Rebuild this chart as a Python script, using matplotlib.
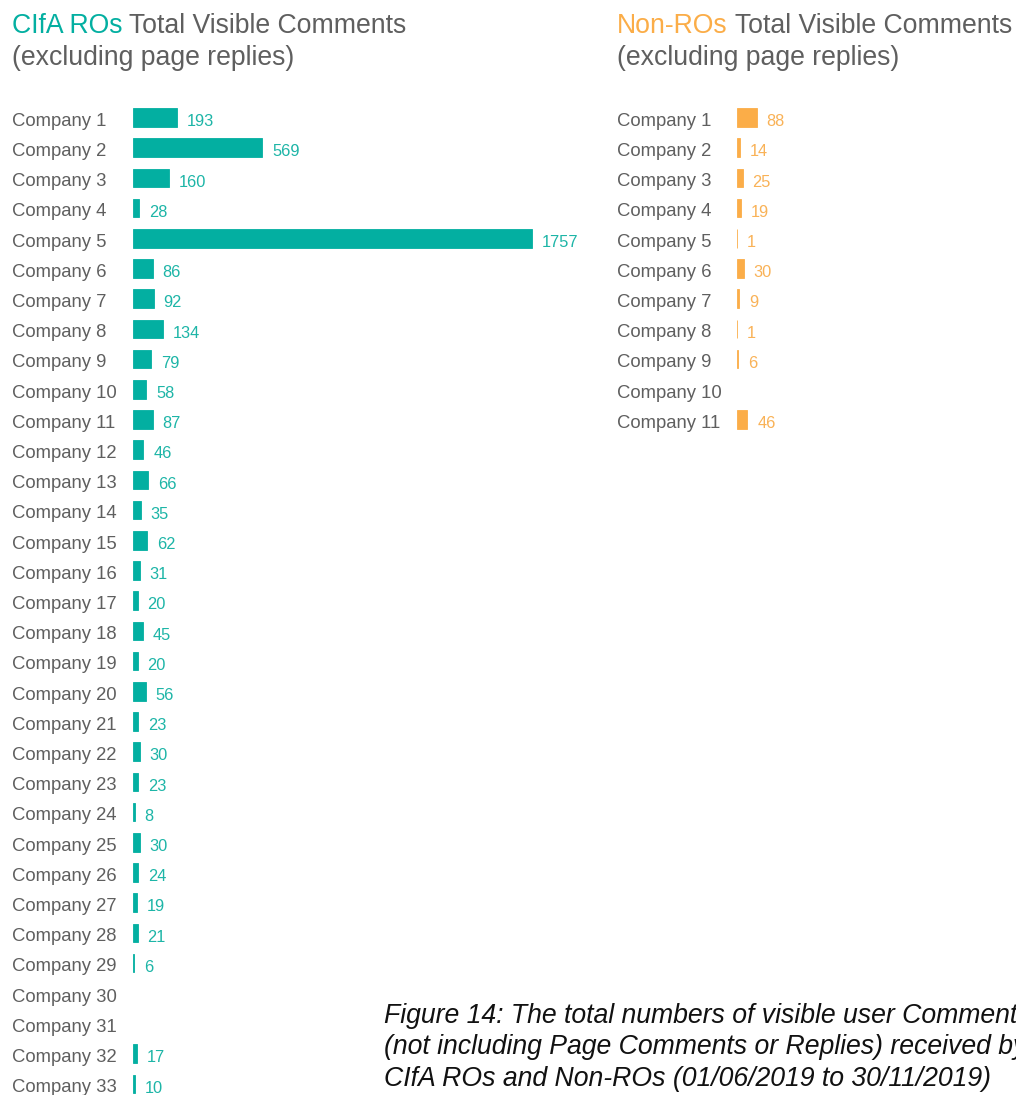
import matplotlib
matplotlib.use("Agg")
import matplotlib.pyplot as plt
import matplotlib.transforms as mtransforms

plt.rcParams["font.family"] = ["Liberation Sans", "DejaVu Sans"]

# --- data ---
ro_companies = [f"Company {i}" for i in range(1, 34)]
ro_values = [193, 569, 160, 28, 1757, 86, 92, 134, 79, 58, 87, 46, 66, 35, 62,
             31, 20, 45, 20, 56, 23, 30, 23, 8, 30, 24, 19, 21, 6, None, None, 17, 10]
non_companies = [f"Company {i}" for i in range(1, 12)]
non_values = [88, 14, 25, 19, 1, 30, 9, 1, 6, None, 46]

caption_lines = [
    "Figure 14: The total numbers of visible user Comments",
    "(not including Page Comments or Replies) received by",
    "CIfA ROs and Non-ROs (01/06/2019 to 30/11/2019)",
]

TEAL = "#03AFA1"
TEAL_TXT = "#1DB5A7"
ORANGE = "#FBAD48"
ORANGE_TXT = "#F9B257"
GREY = "#5F5F5F"

W, H = 1016, 1095
fig = plt.figure(figsize=(W / 100, H / 100), dpi=100)

ROW0 = 117.5      # pixel y of first row centre
STEP = 30.2       # pixel distance between rows
PX_PER_UNIT = (532 - 133) / 1757


def make_axes(x0_px, width_px, n):
    top = ROW0 - STEP / 2
    height = n * STEP
    ax = fig.add_axes([x0_px / W, 1 - (top + height) / H, width_px / W, height / H])
    ax.set_xlim(0, width_px / PX_PER_UNIT)
    ax.set_ylim(n - 0.5, -0.5)
    ax.axis("off")
    return ax


def draw_panel(ax, names, values, color, txt_color, label_x_px):
    ys = list(range(len(names)))
    bar_y = [y for y, v in zip(ys, values) if v]
    bar_w = [v for v in values if v]
    ax.barh(bar_y, bar_w, height=0.61, color=color, edgecolor=color, linewidth=0.6)
    down = mtransforms.ScaledTranslation(0, -8.3 / 100, fig.dpi_scale_trans)
    name_tr = mtransforms.blended_transform_factory(fig.transFigure, ax.transData) + down
    for y, name, v in zip(ys, names, values):
        ax.text(label_x_px / W, y, name, transform=name_tr, fontsize=13.3,
                color=GREY, va="baseline", ha="left")
        if v:
            ax.annotate(str(v), (v, y), xytext=(7.0, -6.2), textcoords="offset points",
                        fontsize=11.8, color=txt_color, va="baseline", ha="left")


ax1 = make_axes(133, 470, len(ro_companies))
draw_panel(ax1, ro_companies, ro_values, TEAL, TEAL_TXT, 12)

ax2 = make_axes(737, 279, len(non_companies))
draw_panel(ax2, non_companies, non_values, ORANGE, ORANGE_TXT, 617)

# titles with coloured first word
renderer = fig.canvas.get_renderer()
for x_px, head, color in [(12, "CIfA ROs", TEAL), (617, "Non-ROs", ORANGE)]:
    t = fig.text(x_px / W, 1 - 33 / H, head, fontsize=19.2, color=color, va="baseline")
    bb = t.get_window_extent(renderer)
    fig.text(bb.x1 / W, 1 - 33 / H, " Total Visible Comments", fontsize=19.2,
             color=GREY, va="baseline")
    fig.text(x_px / W, 1 - 65 / H, "(excluding page replies)", fontsize=19.2,
             color=GREY, va="baseline")

for i, line in enumerate(caption_lines):
    fig.text(384 / W, 1 - (1023 + 31.5 * i) / H, line, fontsize=19.2,
             style="italic", color="#111111", va="baseline")

fig.savefig("out.png", dpi=100)
